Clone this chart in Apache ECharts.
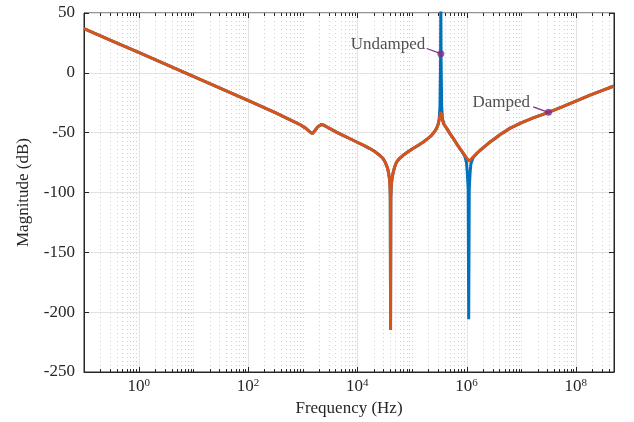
<!DOCTYPE html>
<html>
<head>
<meta charset="utf-8">
<title>Magnitude</title>
<script src="https://cdn.jsdelivr.net/npm/echarts@6/dist/echarts.min.js"></script>
<style>
  html, body { margin: 0; padding: 0; background: #fff; }
  #chart { width: 634px; height: 422px; }
</style>
</head>
<body>
<div id="chart"></div>
<script>
// values (Hz, dB)
var dampedHz = [0.1, 0.316, 1, 3.16, 10, 31.6, 100, 316, 676, 891, 1122, 1349, 1514, 1660, 1905, 2239, 2630, 3162,
  4169, 5495, 7413, 9772, 13183, 16982, 21380, 25704, 29512, 32359, 35481, 37154, 38905, 39811, 40272, 40738,
  41210, 42170, 43652, 45709, 48978, 52481, 60256, 69183, 85114, 1.047e5, 1.318e5, 1.622e5, 1.95e5, 2.291e5,
  2.57e5, 2.818e5, 3.02e5, 3.162e5, 3.273e5, 3.388e5, 3.508e5, 3.631e5, 3.89e5, 4.365e5, 5.012e5, 5.754e5,
  6.607e5, 7.586e5, 8.511e5, 9.333e5, 1.023e6, 1.122e6, 1.202e6, 1.318e6, 1.514e6, 1.778e6, 2.188e6, 2.692e6,
  3.311e6, 4.074e6, 6.31e6, 1e7, 1.66e7, 3.162e7, 5.623e7, 1e8, 1.778e8, 3.162e8, 5e8];
var dampedDb = [37, 27, 17, 7, -3, -13, -23, -33.3, -40.5, -43.2, -46, -49.2, -50.8, -48.6, -45, -43, -44.6, -46.6,
  -49.5, -52.2, -55.1, -57.8, -60.6, -63.3, -66, -68.9, -71.5, -74.5, -79, -82.8, -88.5, -95, -104, -215,
  -104, -93, -87.5, -82.8, -78, -74.5, -71.2, -68.9, -66, -63.3, -60.5, -57.8, -55, -52.2,
  -49.5, -46.6, -43.5, -39.6, -36.2, -32.7, -36.2, -39.6, -43.5, -46.6, -51, -55,
  -59.3, -63.3, -66.3, -68.9, -71.6, -73.9, -72.3, -70.3, -67.6, -64.7, -61.2, -57.8,
  -54.9, -51.8, -46.2, -41.8, -37.6, -33, -28.4, -23.6, -18.9, -14.5, -11];

var undampedHz = [0.1, 0.316, 1, 3.16, 10, 31.6, 100, 316, 676, 891, 1122, 1349, 1514, 1660, 1905, 2239, 2630, 3162,
  4169, 5495, 7413, 9772, 13183, 16982, 21380, 25704, 29512, 32359, 35481, 37154, 38905, 39811, 40272, 40738,
  41210, 42170, 43652, 45709, 48978, 52481, 60256, 69183, 85114, 1.047e5, 1.318e5, 1.622e5, 1.95e5, 2.291e5,
  2.57e5, 2.818e5, 3.02e5, 3.162e5, 3.273e5, 3.35e5, 3.388e5, 3.428e5, 3.508e5, 3.631e5, 3.89e5, 4.365e5,
  5.012e5, 5.754e5, 6.607e5, 7.586e5, 8.511e5, 9.333e5, 1e6, 1.035e6, 1.072e6, 1.096e6, 1.122e6, 1.161e6,
  1.202e6, 1.318e6, 1.514e6, 1.778e6, 2.188e6, 2.692e6, 3.311e6, 4.074e6, 6.31e6, 1e7, 1.66e7, 3.162e7,
  5.623e7, 1e8, 1.778e8, 3.162e8, 5e8];
var undampedDb = [37, 27, 17, 7, -3, -13, -23, -33.3, -40.5, -43.2, -46, -49.2, -50.8, -48.6, -45, -43, -44.6, -46.6,
  -49.5, -52.2, -55.1, -57.8, -60.6, -63.3, -66, -68.9, -71.5, -74.5, -79, -82.8, -88.5, -95, -104, -215,
  -104, -93, -87.5, -82.8, -78, -74.5, -71.2, -68.9, -66, -63.3, -60.5, -57.8, -55, -52.2,
  -49.5, -46.6, -43, -38.5, -28, 10, 60, 10, -28, -38.5, -43, -46.6,
  -51, -55, -59.3, -63.3, -66.8, -70, -75, -84, -97, -206, -97, -84,
  -76, -71, -67.8, -64.7, -61.2, -57.8, -54.9, -51.8, -46.2, -41.8, -37.6, -33,
  -28.4, -23.6, -18.9, -14.5, -11];

// annotation dots and the start of their leader lines (Hz, dB)
var undampedDot = [3.39e5, 16];
var undampedLeader = [1.86e5, 20.3];
var dampedDot = [3.162e7, -33];
var dampedLeader = [1.66e7, -28.5];

var majorTicks = [1, 1e2, 1e4, 1e6, 1e8];
var xMin = 0.1, xMax = 5e8;

var font = "'Liberation Serif', 'Times New Roman', serif";
var ink = '#262626';

// vertical grid lines + tick marks (decades and 2..9 sub-steps)
var gridMarks = [];
for (var n = -1; n <= 8; n++) {
  for (var k = 1; k <= 9; k++) {
    var v = k * Math.pow(10, n);
    if (v <= xMin || v >= xMax) continue;
    var isMajor = (k === 1 && majorTicks.indexOf(v) >= 0) ? 1 : 0;
    gridMarks.push([v, isMajor]);
  }
}

function pairs(xs, ys) {
  return xs.map(function (x, i) { return [x, ys[i]]; });
}

function renderGrid(params, api) {
  var cs = params.coordSys;
  var x = Math.round(api.coord([api.value(0), 0])[0]) + 0.5;
  var major = api.value(1) === 1;
  var top = cs.y, bottom = cs.y + cs.height;
  var len = major ? 5 : 3;
  return {
    type: 'group',
    children: [
      { type: 'line', shape: { x1: x, y1: top, x2: x, y2: bottom },
        style: major ? { stroke: '#e2e2e2', lineWidth: 1 }
                     : { stroke: '#cfcfcf', lineWidth: 1, lineDash: [1, 3] } },
      { type: 'line', shape: { x1: x, y1: bottom, x2: x, y2: bottom - len },
        style: { stroke: ink, lineWidth: 1 } },
      { type: 'line', shape: { x1: x, y1: top, x2: x, y2: top + len },
        style: { stroke: ink, lineWidth: 1 } }
    ]
  };
}

var chart = echarts.init(document.getElementById('chart'));
chart.setOption({
  animation: false,
  backgroundColor: '#fff',
  grid: { left: 84, right: 20, top: 13, bottom: 50, show: true, borderColor: ink, borderWidth: 1 },
  xAxis: {
    type: 'log', logBase: 10, min: xMin, max: xMax, interval: 1,
    name: 'Frequency (Hz)', nameLocation: 'middle', nameGap: 28,
    nameTextStyle: { fontFamily: font, fontSize: 17, color: ink },
    axisLine: { show: true, onZero: false, lineStyle: { color: ink } },
    axisTick: { show: false },
    splitLine: { show: false },
    axisLabel: {
      color: ink, fontFamily: font, fontSize: 17, margin: 6,
      formatter: function (val) {
        var e = Math.log10(val);
        var r = Math.round(e);
        if (Math.abs(e - r) > 1e-6 || r < 0 || r % 2 !== 0) return '';
        return '10{sup|' + r + '}';
      },
      rich: { sup: { fontFamily: font, fontSize: 11, verticalAlign: 'top', color: ink } }
    }
  },
  yAxis: [{
    type: 'value', min: -250, max: 50, interval: 50, position: 'left',
    name: 'Magnitude (dB)', nameLocation: 'middle', nameGap: 52,
    nameTextStyle: { fontFamily: font, fontSize: 17, color: ink },
    axisLine: { show: true, onZero: false, lineStyle: { color: ink } },
    axisTick: { show: true, inside: true, length: 5, lineStyle: { color: ink } },
    axisLabel: { color: ink, fontFamily: font, fontSize: 17, margin: 9 },
    splitLine: { show: true, lineStyle: { color: '#e2e2e2', width: 1 } }
  }, {
    type: 'value', min: -250, max: 50, interval: 50, position: 'right',
    axisLine: { show: true, onZero: false, lineStyle: { color: ink } },
    axisTick: { show: true, inside: true, length: 5, lineStyle: { color: ink } },
    axisLabel: { show: false },
    splitLine: { show: false }
  }],
  series: [
    {
      type: 'custom', name: 'grid', z: 1, silent: true,
      encode: { x: 0, y: 1 },
      renderItem: renderGrid,
      data: gridMarks
    },
    {
      type: 'line', name: 'Undamped', z: 3, showSymbol: false, symbol: 'none',
      lineStyle: { color: '#0072BD', width: 3 },
      data: pairs(undampedHz, undampedDb)
    },
    {
      type: 'line', name: 'Damped', z: 4, showSymbol: false, symbol: 'none',
      lineStyle: { color: '#D95319', width: 3 },
      data: pairs(dampedHz, dampedDb)
    },
    {
      type: 'line', z: 5, symbol: 'none', silent: true,
      lineStyle: { color: '#7E2F8E', width: 1.2 },
      data: [undampedLeader, undampedDot]
    },
    {
      type: 'line', z: 5, symbol: 'none', silent: true,
      lineStyle: { color: '#7E2F8E', width: 1.2 },
      data: [dampedLeader, dampedDot]
    },
    {
      type: 'scatter', z: 6, symbolSize: 7, silent: true,
      itemStyle: { color: '#7E2F8E' },
      label: {
        show: true, position: 'left', fontFamily: font, fontSize: 17, color: ink,
        formatter: function (p) { return p.name; }
      },
      data: [
        { name: 'Undamped', value: undampedDot, label: { distance: 12, offset: [0, -9] } },
        { name: 'Damped', value: dampedDot, label: { distance: 15, offset: [0, -10] } }
      ]
    }
  ]
});
</script>
</body>
</html>
